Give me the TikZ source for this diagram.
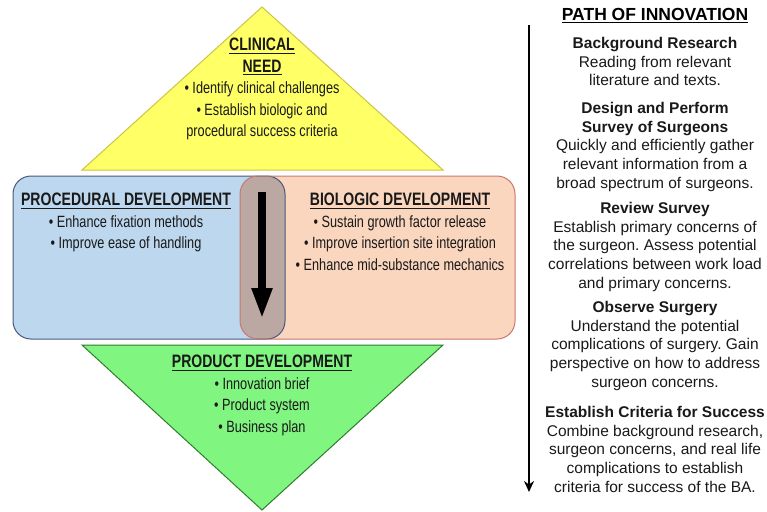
\documentclass[tikz,border=0pt]{standalone}
\usepackage{fontspec}
\setmainfont{Liberation Sans}
\newfontfamily\narrowfont[FakeStretch=0.78]{Liberation Sans}
\usetikzlibrary{arrows.meta}
\definecolor{needfill}{RGB}{255,255,102}
\definecolor{needline}{RGB}{205,195,70}
\definecolor{procfill}{RGB}{189,215,238}
\definecolor{procline}{RGB}{70,90,125}
\definecolor{biofill}{RGB}{250,214,190}
\definecolor{bioline}{RGB}{200,120,110}
\definecolor{overlap}{RGB}{188,168,162}
\definecolor{prodfill}{RGB}{128,245,128}
\definecolor{prodline}{RGB}{45,125,45}
\newcommand\headline[1]{\leavevmode\vtop{\hbox{#1}\kern1.6pt\hrule height 1.1pt}}
\newcommand\boxhead[1]{\headline{\bfseries\fontsize{18}{21.5}\selectfont #1}}
\frenchspacing

\begin{document}
\begin{tikzpicture}[
    x=1pt, y=-1pt,
    every node/.style={
        align=center, inner sep=0, anchor=north
    },
    diagram text/.style={
        font=\narrowfont\fontsize{16.3}{21.5}\selectfont, text=black!90
    },
    path text/.style={
        font=\fontsize{15.5}{18.8}\selectfont, text=black!90
    },
    path title/.style={
        font=\bfseries\fontsize{17.5}{20}\selectfont, text=black
    },
    box/.style={rounded corners=18pt}
]
    \useasboundingbox (0,0) rectangle (767,511);

    % diamond of the diagram
    \filldraw[fill=needfill, draw=needline, line width=1pt]
        (262,7) -- (443,170) -- (82,170) -- cycle;
    \filldraw[fill=prodfill, draw=prodline, line width=1pt]
        (82,345) -- (443,345) -- (262,510) -- cycle;

    \fill[box, procfill] (13,176) rectangle (285,339);
    \fill[box, biofill] (240,176) rectangle (515,339);
    \fill[box, overlap] (240,176) rectangle (285,339);
    \draw[box, procline, line width=1pt] (13,176) rectangle (285,339);
    \draw[box, bioline, line width=1pt] (240,176) rectangle (515,339);

    \coordinate (flowtop) at (262,192);
    \coordinate (flowend) at (262,319);
    \draw[line width=8pt, -{Triangle[width=19pt, length=31pt]}]
        (flowtop) -- (flowend);

    \node[diagram text] (need) at (262,38) {%
        \boxhead{CLINICAL}\\\boxhead{NEED}\\
        \textbullet\ Identify clinical challenges\\
        \textbullet\ Establish biologic and\\
        procedural success criteria};
    \node[diagram text] (procedural) at (126,193) {%
        \boxhead{PROCEDURAL DEVELOPMENT}\\
        \textbullet\ Enhance fixation methods\\
        \textbullet\ Improve ease of handling};
    \node[diagram text] (biologic) at (400,193) {%
        \boxhead{BIOLOGIC DEVELOPMENT}\\
        \textbullet\ Sustain growth factor release\\
        \textbullet\ Improve insertion site integration\\
        \textbullet\ Enhance mid-substance mechanics};
    \node[diagram text] (product) at (262,355) {%
        \boxhead{PRODUCT DEVELOPMENT}\\
        \textbullet\ Innovation brief\\
        \textbullet\ Product system\\
        \textbullet\ Business plan};

    % path of innovation
    \node[path title] (pathtitle) at (655,8) {\headline{PATH OF INNOVATION}};
    \coordinate (pathtop) at (529,25);
    \coordinate (pathend) at (529,492);
    \draw[line width=1.8pt, -{Stealth[width=10pt, length=11pt]}]
        (pathtop) -- (pathend);

    \node[path text] (background) at (655,36.8) {%
        \textbf{Background Research}\\
        Reading from relevant\\
        literature and texts.};
    \node[path text] (survey) at (655,101.8) {%
        \textbf{Design and Perform}\\
        \textbf{Survey of Surgeons}\\
        Quickly and efficiently gather\\
        relevant information from a\\
        broad spectrum of surgeons.};
    \node[path text] (review) at (655,201.8) {%
        \textbf{Review Survey}\\
        Establish primary concerns of\\
        the surgeon. Assess potential\\
        correlations between work load\\
        and primary concerns.};
    \node[path text] (observe) at (655,300.8) {%
        \textbf{Observe Surgery}\\
        Understand the potential\\
        complications of surgery. Gain\\
        perspective on how to address\\
        surgeon concerns.};
    \node[path text] (criteria) at (655,405.8) {%
        \textbf{Establish Criteria for Success}\\
        Combine background research,\\
        surgeon concerns, and real life\\
        complications to establish\\
        criteria for success of the BA.};
\end{tikzpicture}
\end{document}
